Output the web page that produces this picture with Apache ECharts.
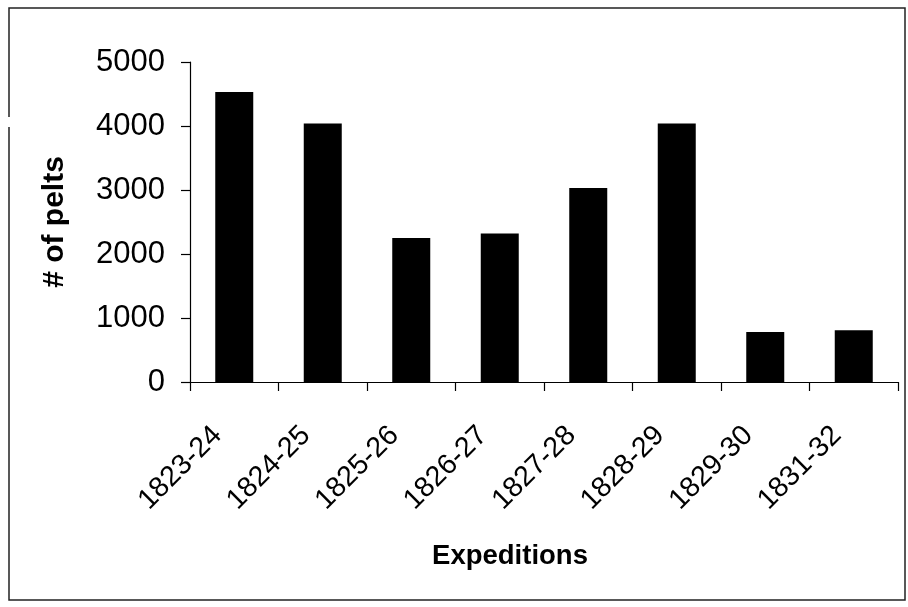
<!DOCTYPE html>
<html>
<head>
<meta charset="utf-8">
<script src="https://cdn.jsdelivr.net/npm/echarts@6/dist/echarts.min.js"></script>
<style>
html,body{margin:0;padding:0;background:#fff;}
#chart{width:908px;height:607px;}
</style>
</head>
<body>
<div id="chart"></div>
<script>
const categories = ['1823-24','1824-25','1825-26','1826-27','1827-28','1828-29','1829-30','1831-32'];
const pelts = [4530, 4040, 2250, 2320, 3030, 4040, 780, 810];
const yTicks = [0, 1000, 2000, 3000, 4000, 5000];

const chart = echarts.init(document.getElementById('chart'));
const frameStyle = {stroke: '#222', lineWidth: 1.5};
chart.setOption({
  backgroundColor: '#fff',
  animation: false,
  graphic: [
    {type: 'polyline', shape: {points: [[9, 117], [9, 8], [905, 8], [905, 600], [9, 600], [9, 127]]}, style: frameStyle, silent: true}
  ],
  grid: {left: 190, right: 10, top: 62, bottom: 225, containLabel: false},
  xAxis: {
    type: 'category',
    data: categories,
    name: 'Expeditions',
    nameLocation: 'middle',
    nameGap: 160,
    nameTextStyle: {fontFamily: 'Liberation Sans', fontWeight: 'bold', fontSize: 27.5, color: '#000', padding: [0, 68, 0, 0]},
    axisLine: {lineStyle: {color: '#000', width: 1.2}},
    axisTick: {show: true, length: 9, lineStyle: {color: '#000', width: 1.2}},
    axisLabel: {rotate: 45, margin: 32, padding: [0, 24, 0, 0], fontFamily: 'Liberation Sans', fontSize: 28.5, color: '#000'}
  },
  yAxis: {
    type: 'value',
    min: yTicks[0],
    max: yTicks[yTicks.length - 1],
    interval: 1000,
    name: '# of pelts',
    nameLocation: 'middle',
    nameGap: 120,
    nameRotate: 90,
    nameTextStyle: {fontFamily: 'Liberation Sans', fontWeight: 'bold', fontSize: 30, color: '#000'},
    axisLine: {show: true, lineStyle: {color: '#000', width: 1.2}},
    axisTick: {show: true, length: 9, lineStyle: {color: '#000', width: 1.2}},
    splitLine: {show: false},
    axisLabel: {margin: 25, fontFamily: 'Liberation Sans', fontSize: 31, color: '#000', formatter: v => String(v)}
  },
  series: [{
    type: 'bar',
    data: pelts,
    barWidth: 38,
    itemStyle: {color: '#000'}
  }]
});
</script>
</body>
</html>
